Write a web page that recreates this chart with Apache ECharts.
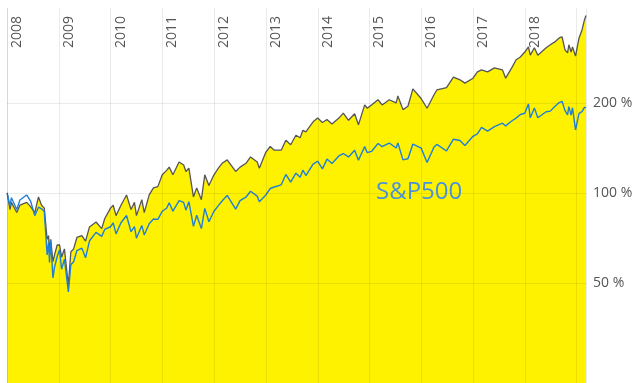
<!DOCTYPE html>
<html><head><meta charset="utf-8">
<script src="https://cdn.jsdelivr.net/npm/echarts@6/dist/echarts.min.js"></script>
<style>html,body{margin:0;padding:0;background:#fff}#c{width:644px;height:383px}</style>
</head><body><div id="c"></div>
<script>
const dates = [
'2008-01-02','2008-01-22','2008-02-01','2008-03-10','2008-04-01','2008-05-19','2008-06-15','2008-07-15','2008-08-10','2008-09-01','2008-09-20','2008-10-10','2008-10-20','2008-10-27','2008-11-04','2008-11-20','2008-12-01','2008-12-20',
'2009-01-06','2009-01-20','2009-02-09','2009-03-09','2009-03-26','2009-04-15','2009-05-08','2009-06-12','2009-07-08','2009-08-05','2009-09-20','2009-10-30','2009-11-20','2009-12-31',
'2010-01-19','2010-02-08','2010-03-15','2010-04-23','2010-05-25','2010-06-18','2010-07-02','2010-08-09','2010-08-26','2010-09-30','2010-10-30','2010-11-30','2010-12-31',
'2011-01-31','2011-02-18','2011-03-16','2011-04-29','2011-05-31','2011-06-16','2011-07-07','2011-08-08','2011-08-31','2011-10-03','2011-10-27','2011-11-25','2011-12-31',
'2012-01-31','2012-02-29','2012-04-02','2012-06-01','2012-07-02','2012-08-15','2012-09-14','2012-10-31','2012-11-15','2012-12-31',
'2013-01-31','2013-02-28','2013-04-18','2013-05-21','2013-06-24','2013-07-31','2013-08-30','2013-09-18','2013-10-09','2013-11-29','2013-12-31',
'2014-02-03','2014-03-07','2014-04-11','2014-05-30','2014-06-30','2014-08-06','2014-09-18','2014-10-15','2014-11-28','2014-12-16',
'2015-01-15','2015-03-02','2015-03-31','2015-05-20','2015-07-08','2015-07-20','2015-08-25','2015-09-29','2015-11-03','2015-12-31',
'2016-02-11','2016-03-31','2016-04-20','2016-06-27','2016-08-15','2016-09-30','2016-11-04','2016-12-31',
'2017-01-31','2017-03-01','2017-04-13','2017-05-31','2017-07-27','2017-08-18','2017-09-30','2017-10-31','2017-11-30','2017-12-31',
'2018-01-26','2018-02-08','2018-03-09','2018-04-02','2018-05-31','2018-06-29','2018-07-31','2018-08-31','2018-09-20','2018-10-11','2018-10-29','2018-11-07','2018-11-23','2018-12-03','2018-12-24',
'2019-01-18','2019-02-08','2019-02-25','2019-03-08'
];
// stock (gray line, yellow area), ratio to start (1 = 100 %)
const stock = [
1.00,0.88,0.93,0.86,0.91,0.93,0.90,0.86,0.97,0.91,0.89,0.70,0.72,0.635,0.70,0.59,0.62,0.67,
0.67,0.61,0.65,0.49,0.635,0.65,0.71,0.72,0.69,0.77,0.80,0.76,0.82,0.89,
0.91,0.84,0.91,0.985,0.88,0.93,0.84,0.95,0.86,0.985,1.04,1.05,1.15,
1.19,1.22,1.15,1.27,1.24,1.18,1.21,0.97,1.04,0.95,1.15,1.06,1.15,
1.21,1.26,1.29,1.18,1.22,1.26,1.32,1.27,1.21,1.37,
1.43,1.39,1.39,1.50,1.45,1.56,1.53,1.62,1.60,1.73,1.78,
1.72,1.76,1.70,1.78,1.85,1.75,1.84,1.69,1.97,1.92,
1.97,2.05,1.97,2.05,2.00,2.11,1.90,1.95,2.23,2.07,
1.92,2.13,2.21,2.25,2.44,2.39,2.33,2.42,
2.54,2.58,2.54,2.62,2.58,2.42,2.62,2.79,2.85,2.96,
3.08,2.89,3.06,2.89,3.06,3.13,3.20,3.30,3.33,3.01,2.94,3.13,2.96,3.08,2.87,
3.30,3.51,3.79,3.92
];
// S&P500 (blue line), ratio to start
const sp500 = [
1.000,0.905,0.964,0.880,0.947,0.985,0.940,0.840,0.896,0.885,0.867,0.621,0.680,0.586,0.695,0.520,0.564,0.613,
0.646,0.556,0.601,0.467,0.575,0.589,0.642,0.654,0.607,0.692,0.738,0.716,0.755,0.771,
0.795,0.730,0.795,0.841,0.742,0.772,0.706,0.779,0.724,0.789,0.818,0.816,0.869,
0.889,0.928,0.869,0.943,0.930,0.876,0.935,0.773,0.842,0.760,0.888,0.801,0.869,
0.907,0.944,0.981,0.883,0.943,0.971,1.013,0.976,0.935,0.985,
1.035,1.047,1.065,1.153,1.087,1.165,1.129,1.192,1.144,1.248,1.277,
1.204,1.298,1.254,1.330,1.355,1.320,1.390,1.287,1.429,1.364,
1.377,1.463,1.429,1.469,1.414,1.471,1.290,1.302,1.458,1.413,
1.264,1.424,1.453,1.382,1.513,1.498,1.441,1.547,
1.575,1.656,1.610,1.667,1.712,1.676,1.741,1.780,1.830,1.848,
1.985,1.784,1.925,1.784,1.869,1.878,1.946,2.006,2.026,1.885,1.825,1.945,1.820,1.928,1.625,
1.846,1.871,1.932,1.930
];
const yearLabels = ['2008','2009','2010','2011','2012','2013','2014','2015','2016','2017','2018'];
const yTickValues = [0.5, 1, 2];
const yTickLabels = ['50 %', '100 %', '200 %'];
const seriesName = 'S&P500';

const chart = echarts.init(document.getElementById('c'), null, {renderer: 'canvas'});
const grid = 'rgba(0,0,0,0.08)';
chart.setOption({
  animation: false,
  backgroundColor: '#ffffff',
  title: {
    text: seriesName, left: 376, top: 180, padding: 0,
    textStyle: {fontFamily: 'Open Sans', fontSize: 24, fontWeight: 'normal', color: '#4b91d8'}
  },
  grid: {left: 7, right: 58, top: 8, bottom: 0, containLabel: false, outerBoundsMode: 'none'},
  xAxis: {
    type: 'time', position: 'top',
    min: '2008-01-01', max: dates[dates.length - 1],
    splitNumber: 12, minInterval: 365 * 864e5, maxInterval: 366 * 864e5,
    axisLine: {show: false}, axisTick: {show: false},
    splitLine: {show: true, lineStyle: {color: grid, width: 1}},
    axisLabel: {
      inside: true, rotate: -90, margin: 8, align: 'right', verticalAlign: 'top',
      padding: [3, 0, 0, 0],
      fontFamily: 'Open Sans', fontSize: 14, color: '#555',
      showMinLabel: true, showMaxLabel: false,
      formatter: function (v) {
        const y = String(new Date(v).getFullYear());
        return yearLabels.indexOf(y) >= 0 ? y : '';
      }
    },
    z: 5
  },
  yAxis: {
    type: 'log', logBase: 2, position: 'right',
    min: 0.2315, max: 4.155,
    axisLine: {show: false}, axisTick: {show: false},
    splitLine: {show: true, showMinLine: false, showMaxLine: false,
      lineStyle: {color: ['rgba(0,0,0,0)', grid, grid, grid, 'rgba(0,0,0,0)'], width: 1}},
    axisLabel: {
      margin: 7, fontFamily: 'Open Sans', fontSize: 14, color: '#555',
      showMinLabel: false, showMaxLabel: false,
      formatter: function (v) {
        for (let i = 0; i < yTickValues.length; i++) {
          if (Math.abs(v - yTickValues[i]) < 1e-6) return yTickLabels[i];
        }
        return '';
      }
    },
    z: 5
  },
  series: [
    {
      type: 'line', name: 'stock', symbol: 'none', z: 2,
      data: dates.map((d, i) => [d, stock[i]]),
      lineStyle: {color: '#555555', width: 1.3},
      areaStyle: {color: '#fff200', opacity: 1, origin: 'start'}
    },
    {
      type: 'line', name: seriesName, symbol: 'none', z: 3,
      data: dates.map((d, i) => [d, sp500[i]]),
      lineStyle: {color: '#1f7fd6', width: 1.4}
    }
  ]
});
</script>
</body></html>
